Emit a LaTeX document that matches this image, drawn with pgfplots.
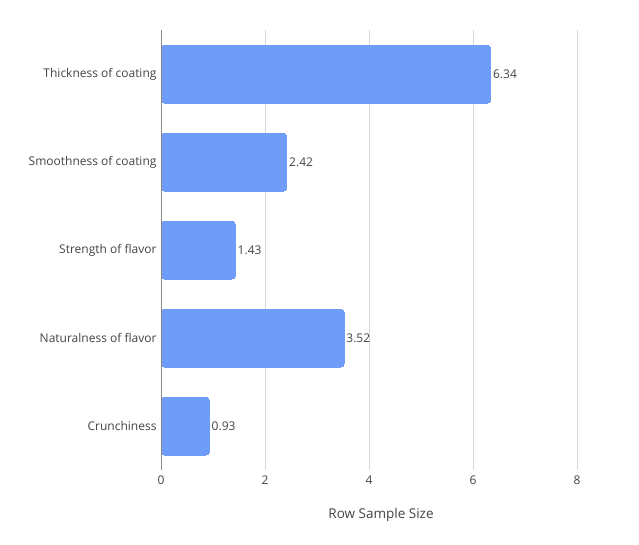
\documentclass[border=0pt]{standalone}
\usepackage{pgfplots}
\pgfplotsset{compat=1.18}
\usepackage{fontspec}
\setmainfont{Open Sans}
\definecolor{barc}{HTML}{6F9CF9}
\definecolor{txt}{HTML}{444444}
\definecolor{gridc}{HTML}{D3D6E2}
\definecolor{zeroc}{HTML}{8A8A8A}
\begin{document}
\begin{tikzpicture}
\fill[white] (0pt,0pt) rectangle (639pt,544pt);
\begin{axis}[
  at={(161pt,74pt)}, anchor=south west,
  scale only axis, width=440pt, height=440pt,
  xmin=0, xmax=8.46, ymin=-0.5, ymax=4.5,
  xbar, bar width=58pt,
  axis line style={draw=none},
  xtick={0,2,4,6,8},
  ytick={0,1,2,3,4},
  yticklabels={Crunchiness,Naturalness of flavor,Strength of flavor,Smoothness of coating,Thickness of coating},
  major tick length=0pt,
  xmajorgrids, major grid style={gridc, line width=0.8pt},
  tick label style={font=\fontsize{12}{14}\selectfont, text=txt},
  /pgf/number format/assume math mode=true,
  xticklabel style={yshift=-2pt},
  yticklabel style={xshift=-1pt},
  xlabel={Row Sample Size},
  xlabel style={font=\fontsize{13.5}{16}\selectfont, text=txt, at={(axis description cs:0.5,0)}, anchor=north, yshift=-35pt},
  nodes near coords,
  nodes near coords style={font=\fontsize{12}{14}\selectfont, text=txt, anchor=west, xshift=-1pt, /pgf/number format/fixed, /pgf/number format/precision=2, /pgf/number format/fixed zerofill},
  clip=false,
]
\addplot[fill=barc, draw=barc, line width=0pt, rounded corners=3.5pt] coordinates {
(0.93,0) (3.52,1) (1.43,2) (2.42,3) (6.34,4)};
\draw[zeroc, line width=0.8pt] (axis cs:0,-0.5) -- (axis cs:0,4.5);
\end{axis}
\pgfresetboundingbox
\path[use as bounding box] (0pt,0pt) rectangle (639pt,544pt);
\end{tikzpicture}
\end{document}
